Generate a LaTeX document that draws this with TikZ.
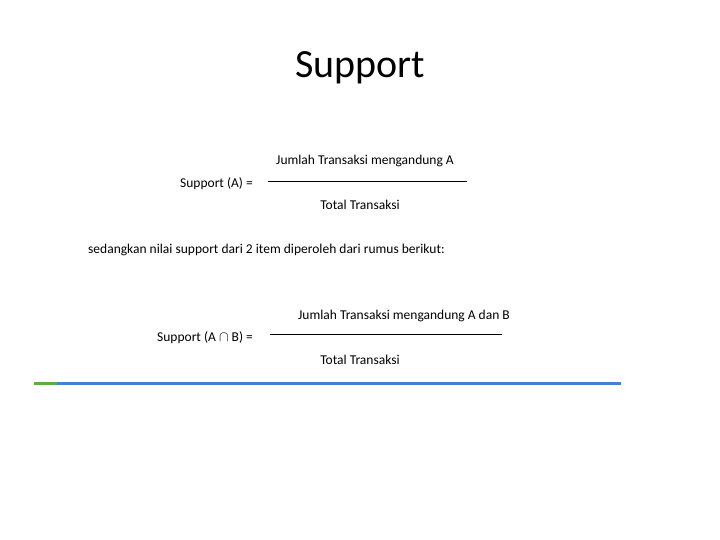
\documentclass[tikz,border=0pt]{standalone}
\usepackage{fontspec}
\setmainfont{Carlito}
\begin{document}
\begin{tikzpicture}[x=1pt,y=-1pt,
  txt/.style={font=\fontsize{13.5}{16}\selectfont, inner sep=0pt},
  frac/.style={line width=0.8pt}]
\useasboundingbox (0,0) rectangle (720,540);

\node[font=\fontsize{40}{46}\selectfont, inner sep=0pt] (title) at (360,68) {Support};

% first formula
\node[txt, anchor=west] (lhsA) at (180,184) {Support (A) =};
\node[txt] (numA) at (365,161) {Jumlah Transaksi mengandung A};
\node[txt] (denA) at (360,205) {Total Transaksi};
\coordinate (fa1) at (268,181);
\coordinate (fa2) at (467,181);
\draw[frac] (fa1) -- (fa2);

\node[txt, anchor=west] (mid) at (88,250) {sedangkan nilai support dari 2 item diperoleh dari rumus berikut:};

% second formula
\node[txt, anchor=west] (lhsAB) at (157,338) {Support (A $\cap$ B) =};
\node[txt] (numAB) at (404,316) {Jumlah Transaksi mengandung A dan B};
\node[txt] (denAB) at (360,360) {Total Transaksi};
\coordinate (fb1) at (270,334);
\coordinate (fb2) at (502,334);
\draw[frac] (fb1) -- (fb2);

% rule
\coordinate (r0) at (34,383);
\coordinate (r1) at (57,383);
\coordinate (r2) at (621,383);
\draw[line width=3pt, color={rgb,255:red,74;green,126;blue,214}] (r1) -- (r2);
\draw[line width=3pt, color={rgb,255:red,98;green,170;blue,72}] (r0) -- (r1);
\end{tikzpicture}
\end{document}
